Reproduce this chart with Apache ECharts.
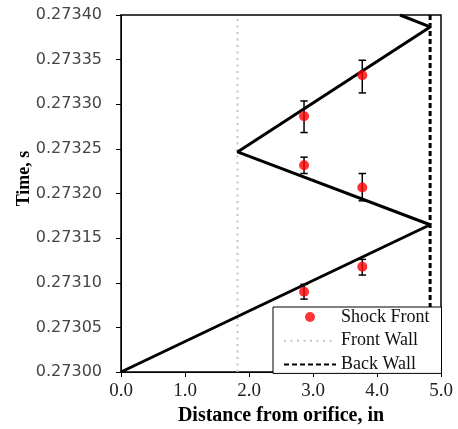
<!DOCTYPE html>
<html>
<head>
<meta charset="utf-8">
<script src="https://cdn.jsdelivr.net/npm/echarts@6/dist/echarts.min.js"></script>
<style>
html,body{margin:0;padding:0;background:#fff;}
#chart{width:458px;height:429px;}
</style>
</head>
<body>
<div id="chart"></div>
<script>
// Sawtooth shock path (distance in, time s)
const pathX = [0.0, 4.83, 1.82, 4.83, 4.36];
const pathT = [0.27300, 0.273165, 0.2732466, 0.2733866, 0.27340];

// Measured shock front points with error bars
const shockX = [2.86, 3.77, 2.86, 3.77, 2.86, 3.77];
const shockT = [0.2732866, 0.2733325, 0.2732317, 0.2732068, 0.2730899, 0.2731179];
const shockLow = [0.2732683, 0.2733127, 0.2732224, 0.2731918, 0.2730817, 0.2731086];
const shockHigh = [0.2733037, 0.2733493, 0.2732407, 0.2732224, 0.2730982, 0.2731262];

// Walls
const frontWallX = 1.82;
const backWallX = 4.83;
const wallT = [0.27300, 0.27340];

const yTickLabels = ['0.27300','0.27305','0.27310','0.27315','0.27320','0.27325','0.27330','0.27335','0.27340'];
const xTickLabels = ['0.0','1.0','2.0','3.0','4.0','5.0'];

const chart = echarts.init(document.getElementById('chart'), null, {renderer: 'canvas'});

const option = {
  animation: false,
  backgroundColor: '#fff',
  grid: {
    left: 121, right: 17, top: 15, bottom: 57,
    outerBoundsMode: 'none', containLabel: false,
    show: true, borderColor: '#000', borderWidth: 1.5, backgroundColor: 'transparent'
  },
  xAxis: {
    type: 'value', min: 0, max: 5, interval: 1,
    name: 'Distance from orifice, in',
    nameLocation: 'middle', nameGap: 34, nameMoveOverlap: false,
    nameTextStyle: {fontFamily: 'Liberation Serif', fontWeight: 'bold', fontSize: 20, color: '#000'},
    axisLine: {show: true, onZero: false, lineStyle: {color: '#000', width: 1}},
    axisTick: {show: true, inside: false, length: 5, lineStyle: {color: '#000'}},
    axisLabel: {
      margin: 10, fontFamily: 'Liberation Serif', fontSize: 19, color: '#222',
      formatter: v => xTickLabels[Math.round(v)]
    },
    splitLine: {show: false}
  },
  yAxis: {
    type: 'value', min: 0.27300, max: 0.27340, interval: 0.00005,
    name: 'Time, s',
    nameLocation: 'middle', nameGap: 88, nameRotate: 90, nameMoveOverlap: false,
    nameTextStyle: {fontFamily: 'Liberation Serif', fontWeight: 'bold', fontSize: 18, color: '#000', padding: [0, 0, 0, 30]},
    axisLine: {show: true, onZero: false, lineStyle: {color: '#000', width: 1}},
    axisTick: {show: true, inside: false, length: 5, lineStyle: {color: '#000'}},
    axisLabel: {
      margin: 19, fontFamily: 'DejaVu Sans', fontSize: 16, color: '#454545',
      formatter: v => yTickLabels[Math.round((v - 0.273) / 0.00005)]
    },
    splitLine: {show: false}
  },
  legend: {
    orient: 'vertical',
    left: 273, top: 307,
    padding: [1, 12, 0, 10],
    itemWidth: 52, itemHeight: 10, itemGap: 5.7,
    backgroundColor: '#fff', borderColor: '#000', borderWidth: 1,
    textStyle: {fontFamily: 'Liberation Serif', fontSize: 18, color: '#111', lineHeight: 16},
    data: [
      {name: 'Shock Front', icon: 'circle'},
      {name: 'Front Wall', itemStyle: {opacity: 0}},
      {name: 'Back Wall', itemStyle: {opacity: 0}}
    ]
  },
  series: [
    {
      name: 'Path', type: 'line', symbol: 'none', clip: true,
      data: pathX.map((x, i) => [x, pathT[i]]),
      lineStyle: {color: '#000', width: 3},
      z: 3
    },
    {
      name: 'Front Wall', type: 'line', symbol: 'none',
      data: wallT.map(t => [frontWallX, t]),
      lineStyle: {color: '#c4c4c4', width: 2, type: [2, 4.5]},
      itemStyle: {color: '#c4c4c4'},
      z: 2
    },
    {
      name: 'Back Wall', type: 'line', symbol: 'none',
      data: wallT.map(t => [backWallX, t]),
      lineStyle: {color: '#000', width: 3, type: [5, 3]},
      itemStyle: {color: '#000'},
      z: 2
    },
    {
      name: 'Errors', type: 'custom',
      data: shockX.map((x, i) => [x, shockLow[i], shockHigh[i]]),
      renderItem: function (params, api) {
        const lo = api.coord([api.value(0), api.value(1)]);
        const hi = api.coord([api.value(0), api.value(2)]);
        const hw = 3.7;
        const style = {stroke: '#000', lineWidth: 1.5};
        return {
          type: 'group',
          children: [
            {type: 'line', shape: {x1: lo[0], y1: lo[1], x2: hi[0], y2: hi[1]}, style: style},
            {type: 'line', shape: {x1: lo[0] - hw, y1: lo[1], x2: lo[0] + hw, y2: lo[1]}, style: style},
            {type: 'line', shape: {x1: hi[0] - hw, y1: hi[1], x2: hi[0] + hw, y2: hi[1]}, style: style}
          ]
        };
      },
      z: 4
    },
    {
      name: 'Shock Front', type: 'scatter', symbol: 'circle', symbolSize: 10,
      data: shockX.map((x, i) => [x, shockT[i]]),
      itemStyle: {color: '#ff0000'},
      z: 5
    }
  ]
};
chart.setOption(option);
</script>
</body>
</html>
